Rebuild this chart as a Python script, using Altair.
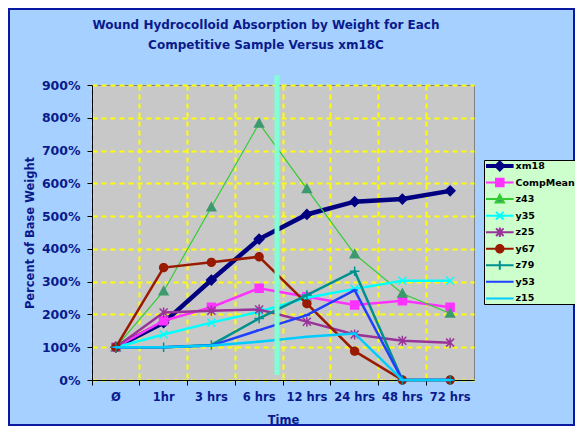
import math
import altair as alt
import pandas as pd

# ---------------- data ----------------
categories = ["Ø", "1hr", "3 hrs", "6 hrs", "12 hrs", "24 hrs", "48 hrs", "72 hrs"]
series_names = ["xm18", "CompMean", "z43", "y35", "z25", "y67", "z79", "y53", "z15"]

xm18 = [100, 175, 305, 430, 505, 544, 552, 577]
comp_mean = [100, 181, 222, 280, 254, 229, 242, 222]
z43 = [100, 271, 527, 783, 583, 384, 264, 203]
y35 = [100, 139, 175, 208, 251, 278, 303, 303]
z25 = [100, 206, 211, 215, 178, 139, 120, 114]
y67 = [100, 343, 359, 376, 233, 88, 0, 0]
z79 = [100, 100, 107, 188, 259, 332, 0, 0]
y53 = [100, 100, 105, 152, 198, 274, 0, 0]
z15 = [100, 100, 105, 117, 132, 142, 0, 0]
series_values = [xm18, comp_mean, z43, y35, z25, y67, z79, y53, z15]

y_ticks = [0, 100, 200, 300, 400, 500, 600, 700, 800, 900]

# ---------------- style ----------------
NAVY = "#0A1A8C"
line_colors = ["#000080", "#FF33FF", "#33CC33", "#00FFFF", "#993399",
               "#991A00", "#009090", "#1F3FFF", "#00CCFF"]
marker_colors = ["#000080", "#FF33FF", "#3C9A6E", "#00FFFF", "#993399",
                 "#991A00", "#009090", "#1F3FFF", "#00CCFF"]
line_widths = [4.5, 2.5, 1.2, 2.5, 2.5, 2.5, 2.5, 2.5, 2.5]

circle_pts = [(math.cos(2 * math.pi * k / 14), math.sin(2 * math.pi * k / 14)) for k in range(14)]
marker_defs = {
    "diamond": [([(-1.2, 0), (0, -1.2), (1.2, 0), (0, 1.2)], True)],
    "square": [([(-1, -1), (1, -1), (1, 1), (-1, 1)], True)],
    "triangle": [([(0, -1.1), (1.1, 0.9), (-1.1, 0.9)], True)],
    "x": [([(-1, -1), (1, 1)], False), ([(-1, 1), (1, -1)], False)],
    "asterisk": [([(-1, -1), (1, 1)], False), ([(-1, 1), (1, -1)], False),
                 ([(0, -1.25), (0, 1.25)], False)],
    "circle": [(circle_pts, True)],
    "plus": [([(-1.2, 0), (1.2, 0)], False), ([(0, -1.2), (0, 1.2)], False)],
    "dash": [([(-0.8, 0), (0.8, 0)], False)],
}
series_markers = ["diamond", "square", "triangle", "x", "asterisk",
                  "circle", "plus", "dash", "dash"]


def to_path(subpaths, dx=0.0, s=1.0):
    parts = []
    for pts, closed in subpaths:
        seg = "M" + " L".join(f"{dx + s * px:.3f},{s * py:.3f}" for px, py in pts)
        if closed:
            seg += " Z"
        parts.append(seg)
    return " ".join(parts)


plot_paths = [to_path(marker_defs[m]) for m in series_markers]
LINE_START, LINE_END = -1.0, 5.9
CENTER = (LINE_START + LINE_END) / 2


def legend_line(thick):
    if thick:
        return (f"M{LINE_START},-0.25 L{LINE_END},-0.25 "
                f"M{LINE_START},0.25 L{LINE_END},0.25 ")
    return f"M{LINE_START},0 L{LINE_END},0 "


legend_paths = [
    legend_line(i == 0) + to_path(marker_defs[m], dx=CENTER, s=0.95)
    for i, m in enumerate(series_markers)
]

rows = []
for name, vals in zip(series_names, series_values):
    for cat, v in zip(categories, vals):
        rows.append({"series": name, "time": cat, "value": v})
df = pd.DataFrame(rows)

W, H = 382, 295

x_axis = alt.Axis(
    title="Time", bandPosition=0, labelAngle=0,
    grid=True, gridColor="#FFFF00", gridDash=[5, 4], gridWidth=2,
    domainColor="black", tickColor="black", tickSize=5, labelPadding=6,
    titlePadding=12, labelFontSize=11.5,
)
y_axis = alt.Axis(
    title="Percent of Base Weight", values=y_ticks, labelExpr="datum.value + '%'",
    labelOverlap=False, labelFlush=False,
    grid=True, gridColor="#FFFF00", gridDash=[5, 4], gridWidth=2,
    domainColor="black", tickColor="black", tickSize=5, labelPadding=7,
    titlePadding=6, labelFontSize=12.5,
)
x_scale = alt.Scale(type="band", domain=categories, paddingInner=0, paddingOuter=0)
y_scale = alt.Scale(domain=[0, 900], nice=False)

x_enc = alt.X("time:N", sort=categories, scale=x_scale, axis=x_axis)
y_enc = alt.Y("value:Q", scale=y_scale, axis=y_axis)

layers = []
for i, name in enumerate(series_names):
    sub = df[df["series"] == name]
    layers.append(
        alt.Chart(sub).mark_line(color=line_colors[i], strokeWidth=line_widths[i])
        .encode(x=x_enc, y=y_enc)
    )
    layers.append(
        alt.Chart(sub).mark_point(
            shape=plot_paths[i], filled=True, fill=marker_colors[i],
            stroke=marker_colors[i], strokeWidth=1.5, size=64, opacity=1,
        ).encode(x=x_enc, y=y_enc)
    )

leg = alt.Legend(
    title=None, orient="none", legendX=392, legendY=75,
    fillColor="#CCFFCC", strokeColor="black", padding=1,
    symbolSize=64, symbolOpacity=1, symbolStrokeWidth=2,
    labelFont="DejaVu Sans", labelFontSize=9.5,
    labelFontWeight="bold", labelColor="black", labelOffset=20.5,
    gridAlign="all", rowPadding=-1.45,
)
legend_df = pd.DataFrame({"series": series_names, "time": ["Ø"] * len(series_names),
                          "value": [100] * len(series_names)})
legend_layer = alt.Chart(legend_df).mark_point(filled=True, opacity=0).encode(
    x=x_enc, y=y_enc,
    fill=alt.Fill("series:N", scale=alt.Scale(domain=series_names, range=marker_colors), legend=leg),
    stroke=alt.Stroke("series:N", scale=alt.Scale(domain=series_names, range=line_colors), legend=leg),
    shape=alt.Shape("series:N", scale=alt.Scale(domain=series_names, range=legend_paths), legend=leg),
)

marker_line = alt.Chart(pd.DataFrame({"a": [0]})).mark_rule(
    color="#80FFD4", strokeWidth=5
).encode(
    x=alt.XDatum("6 hrs", bandPosition=0.874, scale=x_scale, axis=x_axis),
    y=alt.YDatum(930, scale=y_scale, axis=y_axis),
    y2=alt.Y2Datum(15),
)

border = alt.Chart(pd.DataFrame({"a": [0]})).mark_rect(
    fill="transparent", stroke="#0A1AA0", strokeWidth=2
).encode(
    x=alt.value(-83), x2=alt.value(W + 100), y=alt.value(-76), y2=alt.value(H + 45)
)

chart = alt.layer(*layers, legend_layer, marker_line, border).properties(
    width=W, height=H,
    title=alt.TitleParams(
        text=["Wound Hydrocolloid Absorption by Weight for Each",
              "Competitive Sample Versus xm18C"],
        anchor="middle", dx=-17, offset=-56, baseline="bottom", fontSize=12,
        font="DejaVu Sans", fontWeight="bold", color=NAVY, lineHeight=20,
    ),
    autosize=alt.AutoSizeParams(type="none"),
    padding={"left": 84, "top": 77, "right": 101, "bottom": 46},
    background="#A6D0FF",
).configure_view(
    fill="#C8C8C8", stroke="#808080", strokeWidth=1
).configure_axis(
    labelFont="DejaVu Sans", labelFontWeight="bold", labelColor=NAVY, labelOverlap=False,
    titleFont="DejaVu Sans", titleFontSize=11.5, titleFontWeight="bold", titleColor=NAVY,
)

chart.save("out.html", embed_options={"renderer": "svg", "actions": False})
